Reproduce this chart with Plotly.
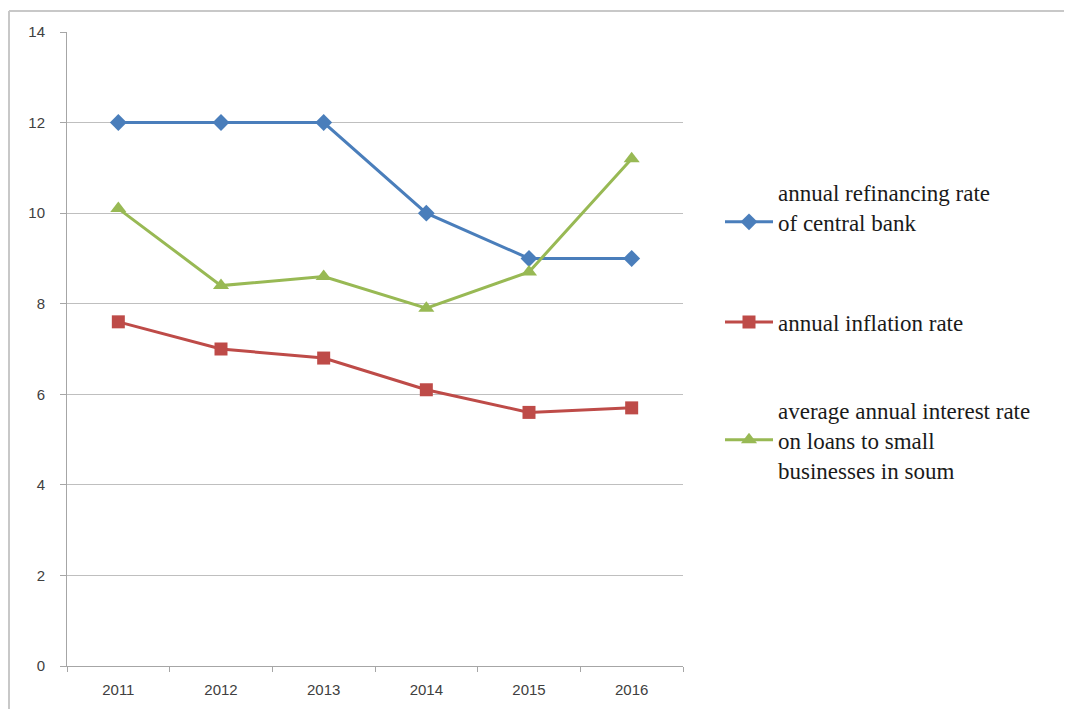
import plotly.graph_objects as go

years = ["2011", "2012", "2013", "2014", "2015", "2016"]
refinancing = [12, 12, 12, 10, 9, 9]
inflation = [7.6, 7.0, 6.8, 6.1, 5.6, 5.7]
loans = [10.1, 8.4, 8.6, 7.9, 8.7, 11.2]
names = [
    "annual refinancing rate<br>of central bank<br> ",
    "annual inflation rate",
    "average annual interest rate<br>on loans to small<br>businesses in soum",
]
y_ticks = [0, 2, 4, 6, 8, 10, 12, 14]

OFF = 8  # default page body margin
W, H = 1072 - OFF, 709 - OFF
L, R, T, B = 67 - OFF, 683 - OFF, 32 - OFF, 666 - OFF

pw = R - L
ph = B - T
def px(x):
    return (x - OFF - L) / pw
def py(y):
    return (B - (y - OFF)) / ph

fig = go.Figure()
fig.add_trace(go.Scatter(x=years, y=refinancing, name=names[0], mode="lines+markers",
                         line=dict(color="#4A7EBB", width=3),
                         marker=dict(symbol="diamond", size=13, color="#4A7EBB"),
                         legend="legend"))
fig.add_trace(go.Scatter(x=years, y=inflation, name=names[1], mode="lines+markers",
                         line=dict(color="#BE4B48", width=3),
                         marker=dict(symbol="square", size=13, color="#BE4B48"),
                         legend="legend2"))
fig.add_trace(go.Scatter(x=years, y=loans, name=names[2], mode="lines+markers",
                         line=dict(color="#98B954", width=3),
                         marker=dict(symbol="triangle-up", size=14, color="#98B954"),
                         legend="legend3"))

legfont = dict(family="Liberation Serif", size=23, color="#1a1a1a")
def leg(ycenter):
    return dict(x=px(720), y=py(ycenter), xanchor="left", yanchor="middle",
                font=legfont, valign="middle", itemwidth=48,
                bgcolor="rgba(0,0,0,0)")

tickfont = dict(family="Liberation Sans", size=15, color="#404040")
fig.update_layout(
    width=W, height=H,
    margin=dict(l=L, r=W - R, t=T, b=H - B, pad=0),
    paper_bgcolor="white", plot_bgcolor="white",
    showlegend=True,
    legend=leg(222), legend2=leg(322), legend3=leg(440),
    xaxis=dict(type="category", range=[-0.5, 5.5], showgrid=False,
               showline=True, linecolor="#A6A6A6", linewidth=1,
               ticks="outside", tickson="boundaries", ticklen=5, tickcolor="#A6A6A6",
               ticklabelstandoff=10, tickfont=tickfont),
    yaxis=dict(range=[0, 14], tickvals=y_ticks, showgrid=True, gridcolor="#BFBFBF", gridwidth=1,
               showline=True, linecolor="#A6A6A6", linewidth=1, zeroline=False,
               ticks="outside", ticklen=6, tickcolor="#A6A6A6",
               ticklabelstandoff=12, tickfont=tickfont),
    shapes=[
        dict(type="line", xref="paper", yref="paper", x0=px(9), x1=px(1072), y0=py(11), y1=py(11),
             line=dict(color="#C8C8C8", width=2)),
        dict(type="line", xref="paper", yref="paper", x0=px(9), x1=px(9), y0=py(11), y1=py(709),
             line=dict(color="#C8C8C8", width=2)),
    ],
)

fig.write_html("out.html")
